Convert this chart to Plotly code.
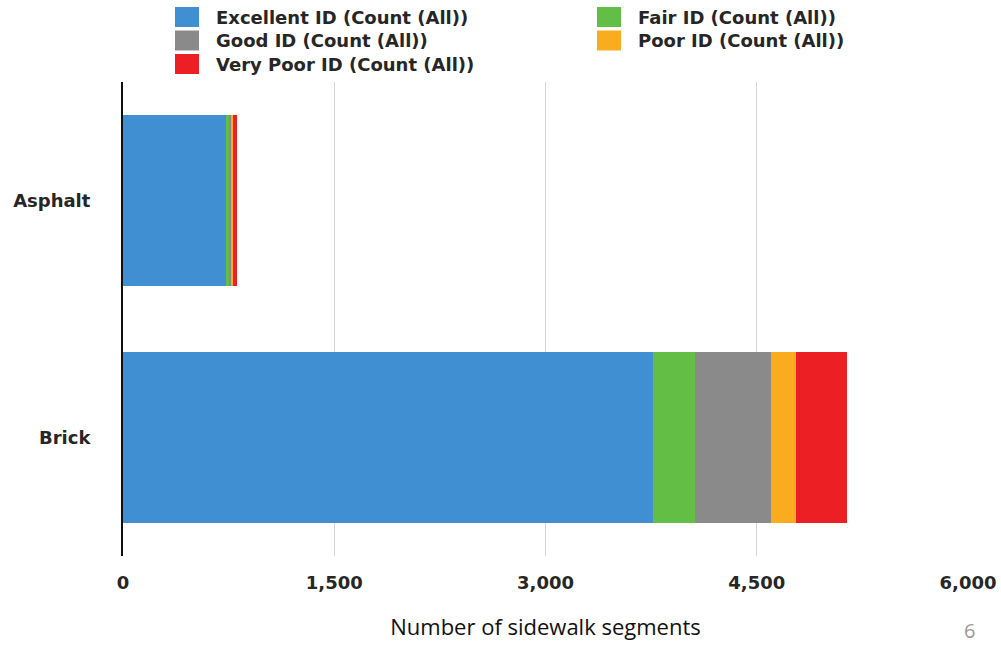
import plotly.graph_objects as go

categories = ["Asphalt", "Brick"]
series_names = [
    "Excellent ID (Count (All))",
    "Fair ID (Count (All))",
    "Good ID (Count (All))",
    "Poor ID (Count (All))",
    "Very Poor ID (Count (All))",
]
excellent = [732, 3760]
fair = [20, 298]
good = [15, 540]
poor = [15, 178]
very_poor = [25, 363]
colors = ["#418fd3", "#62be44", "#8a8a8a", "#faac1e", "#ec1f24"]
x_ticks = [0, 1500, 3000, 4500, 6000]
x_ticklabels = ["0", "1,500", "3,000", "4,500", "6,000"]

W, H = 1001, 645
ML, MR, MT, MB = 123, 33, 82, 89
PW, PH = W - ML - MR, H - MT - MB

LABEL_FONT = dict(family="DejaVu Sans, Arial, sans-serif", size=18, color="#262626", weight="bold")

fig = go.Figure()
for name, vals, col in zip(series_names, [excellent, fair, good, poor, very_poor], colors):
    fig.add_trace(go.Bar(
        y=categories, x=vals, name=name, orientation="h",
        marker=dict(color=col, line=dict(width=0)),
        hoverinfo="skip", showlegend=False,
    ))


def px_x(px):
    return (px - ML) / PW


def px_y(py):
    return (H - MB - py) / PH


# Legend drawn as a two-column key (row-major order like the original)
legend_cols = [175, 597]
legend_rows = [17, 40.5, 64]
for i, (name, col) in enumerate(zip(series_names, colors)):
    r, c = divmod(i, 2)
    sx = legend_cols[c]
    cy = legend_rows[r]
    fig.add_shape(
        type="rect", xref="paper", yref="paper",
        x0=px_x(sx), x1=px_x(sx + 24), y0=px_y(cy + 10), y1=px_y(cy - 10),
        fillcolor=col, line=dict(width=0), layer="above",
    )
    fig.add_annotation(
        text=name, xref="paper", yref="paper",
        x=px_x(sx + 39), y=px_y(cy), xanchor="left", yanchor="middle",
        showarrow=False, font=LABEL_FONT,
    )

fig.update_layout(
    barmode="stack",
    bargap=0.28,
    width=W, height=H,
    margin=dict(l=ML, r=MR, t=MT, b=MB, autoexpand=False),
    paper_bgcolor="white", plot_bgcolor="white",
    font=dict(family="DejaVu Sans, Arial, sans-serif", size=18, color="#222222"),
    showlegend=False,
    xaxis=dict(
        range=[0, 6000], tickvals=x_ticks, ticktext=x_ticklabels,
        showgrid=True, gridcolor="#d4d4d4", gridwidth=1,
        zeroline=False, showline=False, automargin=False,
        ticks="outside", ticklen=10, tickcolor="rgba(0,0,0,0)",
        tickfont=LABEL_FONT,
        title=dict(text="Number of sidewalk segments", standoff=28,
                   font=dict(family="Open Sans, Lato, sans-serif", size=22, color="#111111")),
        fixedrange=True,
    ),
    yaxis=dict(
        categoryorder="array", categoryarray=categories[::-1],
        showline=True, linecolor="#111111", linewidth=2,
        showgrid=False, zeroline=False, automargin=False,
        ticks="", ticklabelstandoff=27,
        tickfont=LABEL_FONT,
        fixedrange=True,
    ),
)

fig.add_annotation(
    text="6", xref="paper", yref="paper", x=px_x(970), y=px_y(630),
    xanchor="center", yanchor="middle", showarrow=False,
    font=dict(family="Open Sans, Lato, sans-serif", size=20, color="#9a9a9a"),
)

fig.write_html("out.html")
